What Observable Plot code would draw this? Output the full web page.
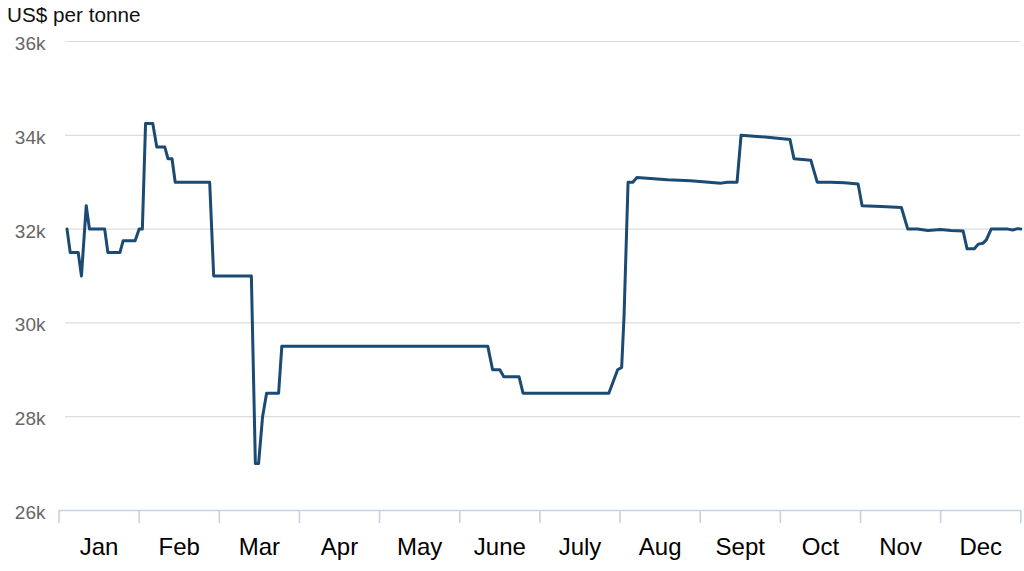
<!DOCTYPE html>
<html>
<head>
<meta charset="utf-8">
<script src="https://cdn.jsdelivr.net/npm/d3@7"></script>
<script src="https://cdn.jsdelivr.net/npm/@observablehq/plot@0.6"></script>
<style>
  html, body { margin: 0; padding: 0; background: #fff; }
  body { width: 1024px; height: 571px; overflow: hidden; font-family: "Liberation Sans", Arial, sans-serif; }
  #title { height: 30px; line-height: 30px; font-size: 20.7px; color: #111; padding-left: 7px; }
  svg { display: block; }
</style>
</head>
<body>
<div id="title">US$ per tonne</div>
<div id="chart"></div>
<script>
// Month labels (equal-width month bins)
const months = ["Jan","Feb","Mar","Apr","May","June","July","Aug","Sept","Oct","Nov","Dec"];
// Position within the year, in months from 1 Jan
const priceT = [0.10,0.14,0.24,0.28,0.34,0.38,0.57,0.61,0.76,0.80,0.95,1.00,1.04,1.08,1.17,1.22,1.32,1.36,1.41,1.45,1.88,1.93,
  2.40,2.45,2.49,2.54,2.59,2.74,2.78,5.35,5.41,5.50,5.55,5.74,5.79,6.86,6.97,7.02,7.05,7.10,7.16,7.21,7.38,7.59,7.88,
  8.26,8.34,8.46,8.51,8.84,9.12,9.17,9.38,9.46,9.63,9.80,9.97,10.02,10.26,10.51,10.59,10.71,10.84,11.00,11.13,11.28,
  11.33,11.42,11.47,11.53,11.57,11.63,11.84,11.90,11.96,12.00];
// Price, US$ per tonne
const priceV = [32000,31500,31500,31000,32500,32000,32000,31500,31500,31750,31750,32000,32000,34250,34250,33750,33750,33500,33500,33000,33000,31000,
  31000,27000,27000,28000,28500,28500,29500,29500,29000,29000,28850,28850,28500,28500,29000,29050,30150,33000,33000,33100,33080,33050,33030,
  32980,33000,33000,34000,33960,33910,33500,33470,33000,33000,32990,32960,32500,32480,32460,32000,32000,31970,31990,31970,31960,
  31580,31580,31680,31700,31770,32000,32000,31980,32010,32000];
const yTicks = [26000,28000,30000,32000,34000,36000];
const gridTicks = [28000,30000,32000,34000,36000];
const monthTicks = d3.range(13);

const data = priceT.map((t, i) => ({t, v: priceV[i]}));
const labels = months.map((m, i) => ({m, x: i + 0.5}));

const axisColor = "#c3d3e3";

const chart = Plot.plot({
  width: 1024,
  height: 541,
  marginTop: 11,
  marginBottom: 61,
  marginLeft: 58.5,
  marginRight: 3.7,
  style: {fontFamily: "'Liberation Sans', Arial, sans-serif", background: "#fff"},
  x: {domain: [0, 12], axis: null, label: null},
  y: {domain: [26000, 36000], axis: null, label: null},
  marks: [
    Plot.ruleY(gridTicks, {stroke: "#dcdcdc", strokeWidth: 1.2, insetLeft: 6.5}),
    Plot.axisY({ticks: yTicks, tickFormat: d => d / 1000 + "k", tickSize: 0, tickPadding: 13.5,
      fontSize: 19, fill: "#666", dy: 2.5, label: null}),
    Plot.ruleY([26000], {stroke: axisColor, strokeWidth: 1.6}),
    Plot.axisX({ticks: monthTicks, tickFormat: () => "", tickSize: 13, stroke: axisColor, strokeWidth: 1.6, label: null}),
    Plot.text(labels, {x: "x", y: () => 26000, text: "m", dy: 37, fontSize: 24, fill: "#000"}),
    Plot.line(data, {x: "t", y: "v", stroke: "#1b4a72", strokeWidth: 3, strokeLinejoin: "round", strokeLinecap: "round"})
  ]
});
document.getElementById("chart").appendChild(chart);
</script>
</body>
</html>
